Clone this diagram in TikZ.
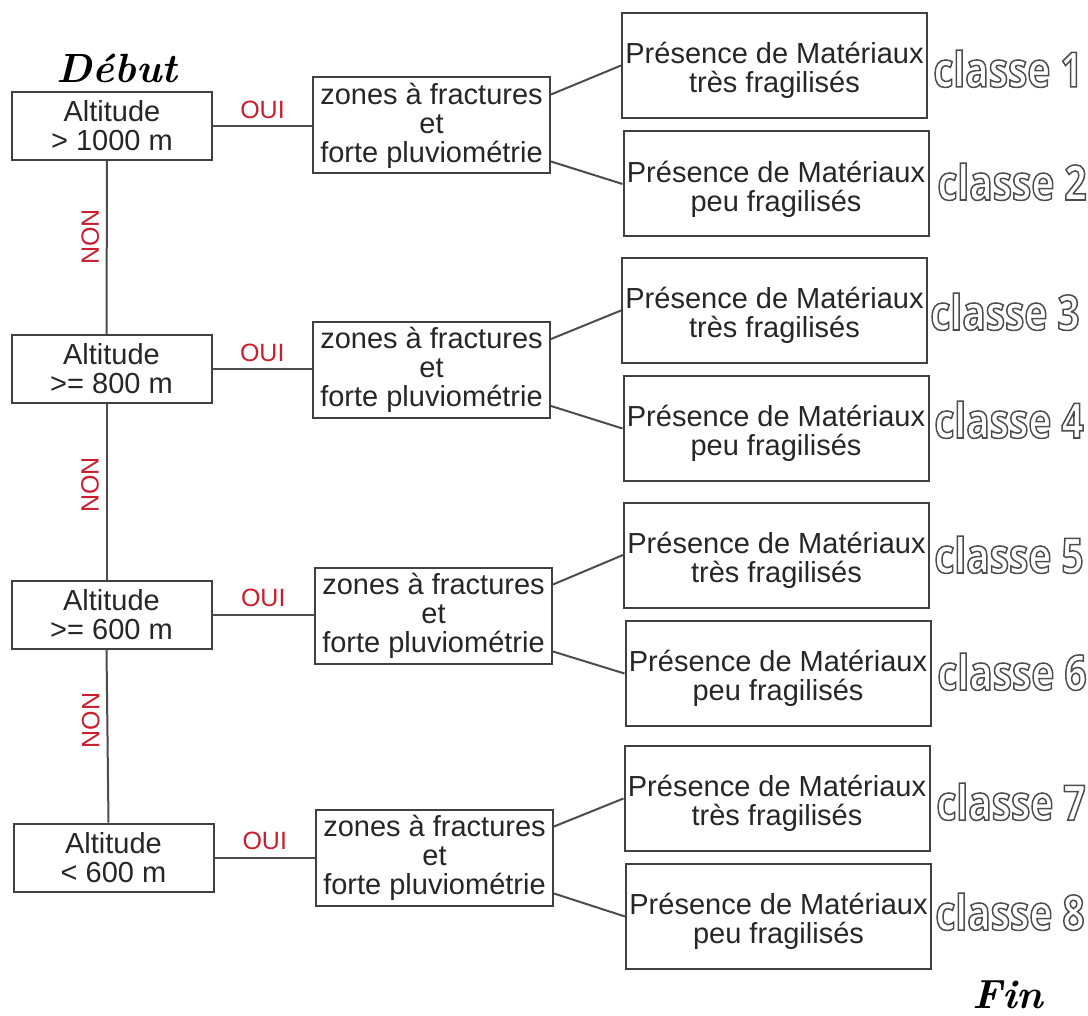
\documentclass[tikz,border=0pt]{standalone}
\usepackage{fontspec}
\newfontfamily\arialfont{Liberation Sans}
\newfontfamily\classefont[FakeStretch=0.8]{Open Sans}
\usetikzlibrary{positioning}
\definecolor{ouired}{RGB}{200,30,45}
\newcommand{\hollow}[1]{\special{pdf:literal direct 1 Tr 0.75 w}#1\special{pdf:literal direct 0 Tr}}
\newcommand{\matlines}[1]{\rule{0pt}{16pt}Présence de Matériaux\\#1}

\begin{document}
\begin{tikzpicture}[x=0.5pt,y=-0.5pt,
  box/.style={draw=black!75,line width=1pt,align=center,inner sep=0pt,text=black!85,
    font=\arialfont\fontsize{14.5}{14.5}\selectfont},
  altbox/.style={box,minimum width=100pt,minimum height=34pt},
  zonebox/.style={box,minimum width=118.5pt,minimum height=48pt},
  matbox/.style={box,minimum width=152.5pt,minimum height=52.5pt},
  link/.style={draw=black!70,line width=1pt},
  oui/.style={text=ouired,font=\arialfont\fontsize{12.5}{12.5}\selectfont},
  non/.style={oui,rotate=90},
  classe/.style={anchor=base west,inner sep=0pt,text=black!70,
    font=\classefont\fontsize{24.3}{24.3}\selectfont\bfseries},
  bornes/.style={anchor=base,inner sep=0pt,font=\fontsize{20.4}{20.4}\selectfont\bfseries\itshape}]

\useasboundingbox (0,0) rectangle (1088,1016);

%Start and end
\node[bornes] (debut) at (117,83) {Début};
\node[bornes] (fin) at (1008,1008) {Fin};

%Altitude boxes
\node[altbox] (alt1) at (112,126) {Altitude\\> 1000 m};
\node[altbox] (alt2) at (111.5,369) {Altitude\\>= 800 m};
\node[altbox] (alt3) at (111.5,614.5) {Altitude\\>= 600 m};
\node[altbox] (alt4) at (113.5,857.5) {Altitude\\< 600 m};

%Fracture zones boxes
\node[zonebox] (zone1) at (431.5,125.5) {zones à fractures\\et\\forte pluviométrie};
\node[zonebox] (zone2) at (431.5,370) {zones à fractures\\et\\forte pluviométrie};
\node[zonebox] (zone3) at (433.5,615.5) {zones à fractures\\et\\forte pluviométrie};
\node[zonebox] (zone4) at (434.5,857.5) {zones à fractures\\et\\forte pluviométrie};

%Material boxes
\node[matbox] (mat1) at (774.5,65.5) {\matlines{très fragilisés}};
\node[matbox] (mat2) at (776,184) {\matlines{peu fragilisés}};
\node[matbox] (mat3) at (774.5,310.5) {\matlines{très fragilisés}};
\node[matbox] (mat4) at (776,428.5) {\matlines{peu fragilisés}};
\node[matbox] (mat5) at (776.5,555) {\matlines{très fragilisés}};
\node[matbox] (mat6) at (778,673.5) {\matlines{peu fragilisés}};
\node[matbox] (mat7) at (777,798.5) {\matlines{très fragilisés}};
\node[matbox] (mat8) at (778.5,916.5) {\matlines{peu fragilisés}};

%Class labels
\node[classe] (classe1) at (933,87) {\hollow{classe 1}};
\node[classe] (classe2) at (937,200) {\hollow{classe 2}};
\node[classe] (classe3) at (930,330) {\hollow{classe 3}};
\node[classe] (classe4) at (934,438) {\hollow{classe 4}};
\node[classe] (classe5) at (934,573) {\hollow{classe 5}};
\node[classe] (classe6) at (937,690) {\hollow{classe 6}};
\node[classe] (classe7) at (936,820) {\hollow{classe 7}};
\node[classe] (classe8) at (935,930) {\hollow{classe 8}};

%NON links
\draw[link] ([xshift=-2.5pt]alt1.south) -- node[non,pos=.44,above] (non1) {NON} ([xshift=-2.5pt]alt2.north);
\draw[link] ([xshift=-2.5pt]alt2.south) -- node[non,pos=.46,above] (non2) {NON} ([xshift=-2.5pt]alt3.north);
\draw[link] ([xshift=-2.5pt]alt3.south) -- node[non,pos=.41,above] (non3) {NON} ([xshift=-2.5pt]alt4.north);

%OUI links
\draw[link] (alt1.east) -- node[oui,above] (oui1) {OUI} (alt1.east -| zone1.west);
\draw[link] (alt2.east) -- node[oui,above] (oui2) {OUI} (alt2.east -| zone2.west);
\draw[link] (alt3.east) -- node[oui,above] (oui3) {OUI} (alt3.east -| zone3.west);
\draw[link] (alt4.east) -- node[oui,above] (oui4) {OUI} (alt4.east -| zone4.west);

%Zones to materials
\draw[link] ([yshift=15.5pt]zone1.east) -- (mat1.west);
\draw[link] ([yshift=-18pt]zone1.east) -- (mat2.west);
\draw[link] ([yshift=15.5pt]zone2.east) -- (mat3.west);
\draw[link] ([yshift=-18pt]zone2.east) -- (mat4.west);
\draw[link] ([yshift=15.5pt]zone3.east) -- (mat5.west);
\draw[link] ([yshift=-18pt]zone3.east) -- (mat6.west);
\draw[link] ([yshift=15.5pt]zone4.east) -- (mat7.west);
\draw[link] ([yshift=-18pt]zone4.east) -- (mat8.west);

\end{tikzpicture}
\end{document}
